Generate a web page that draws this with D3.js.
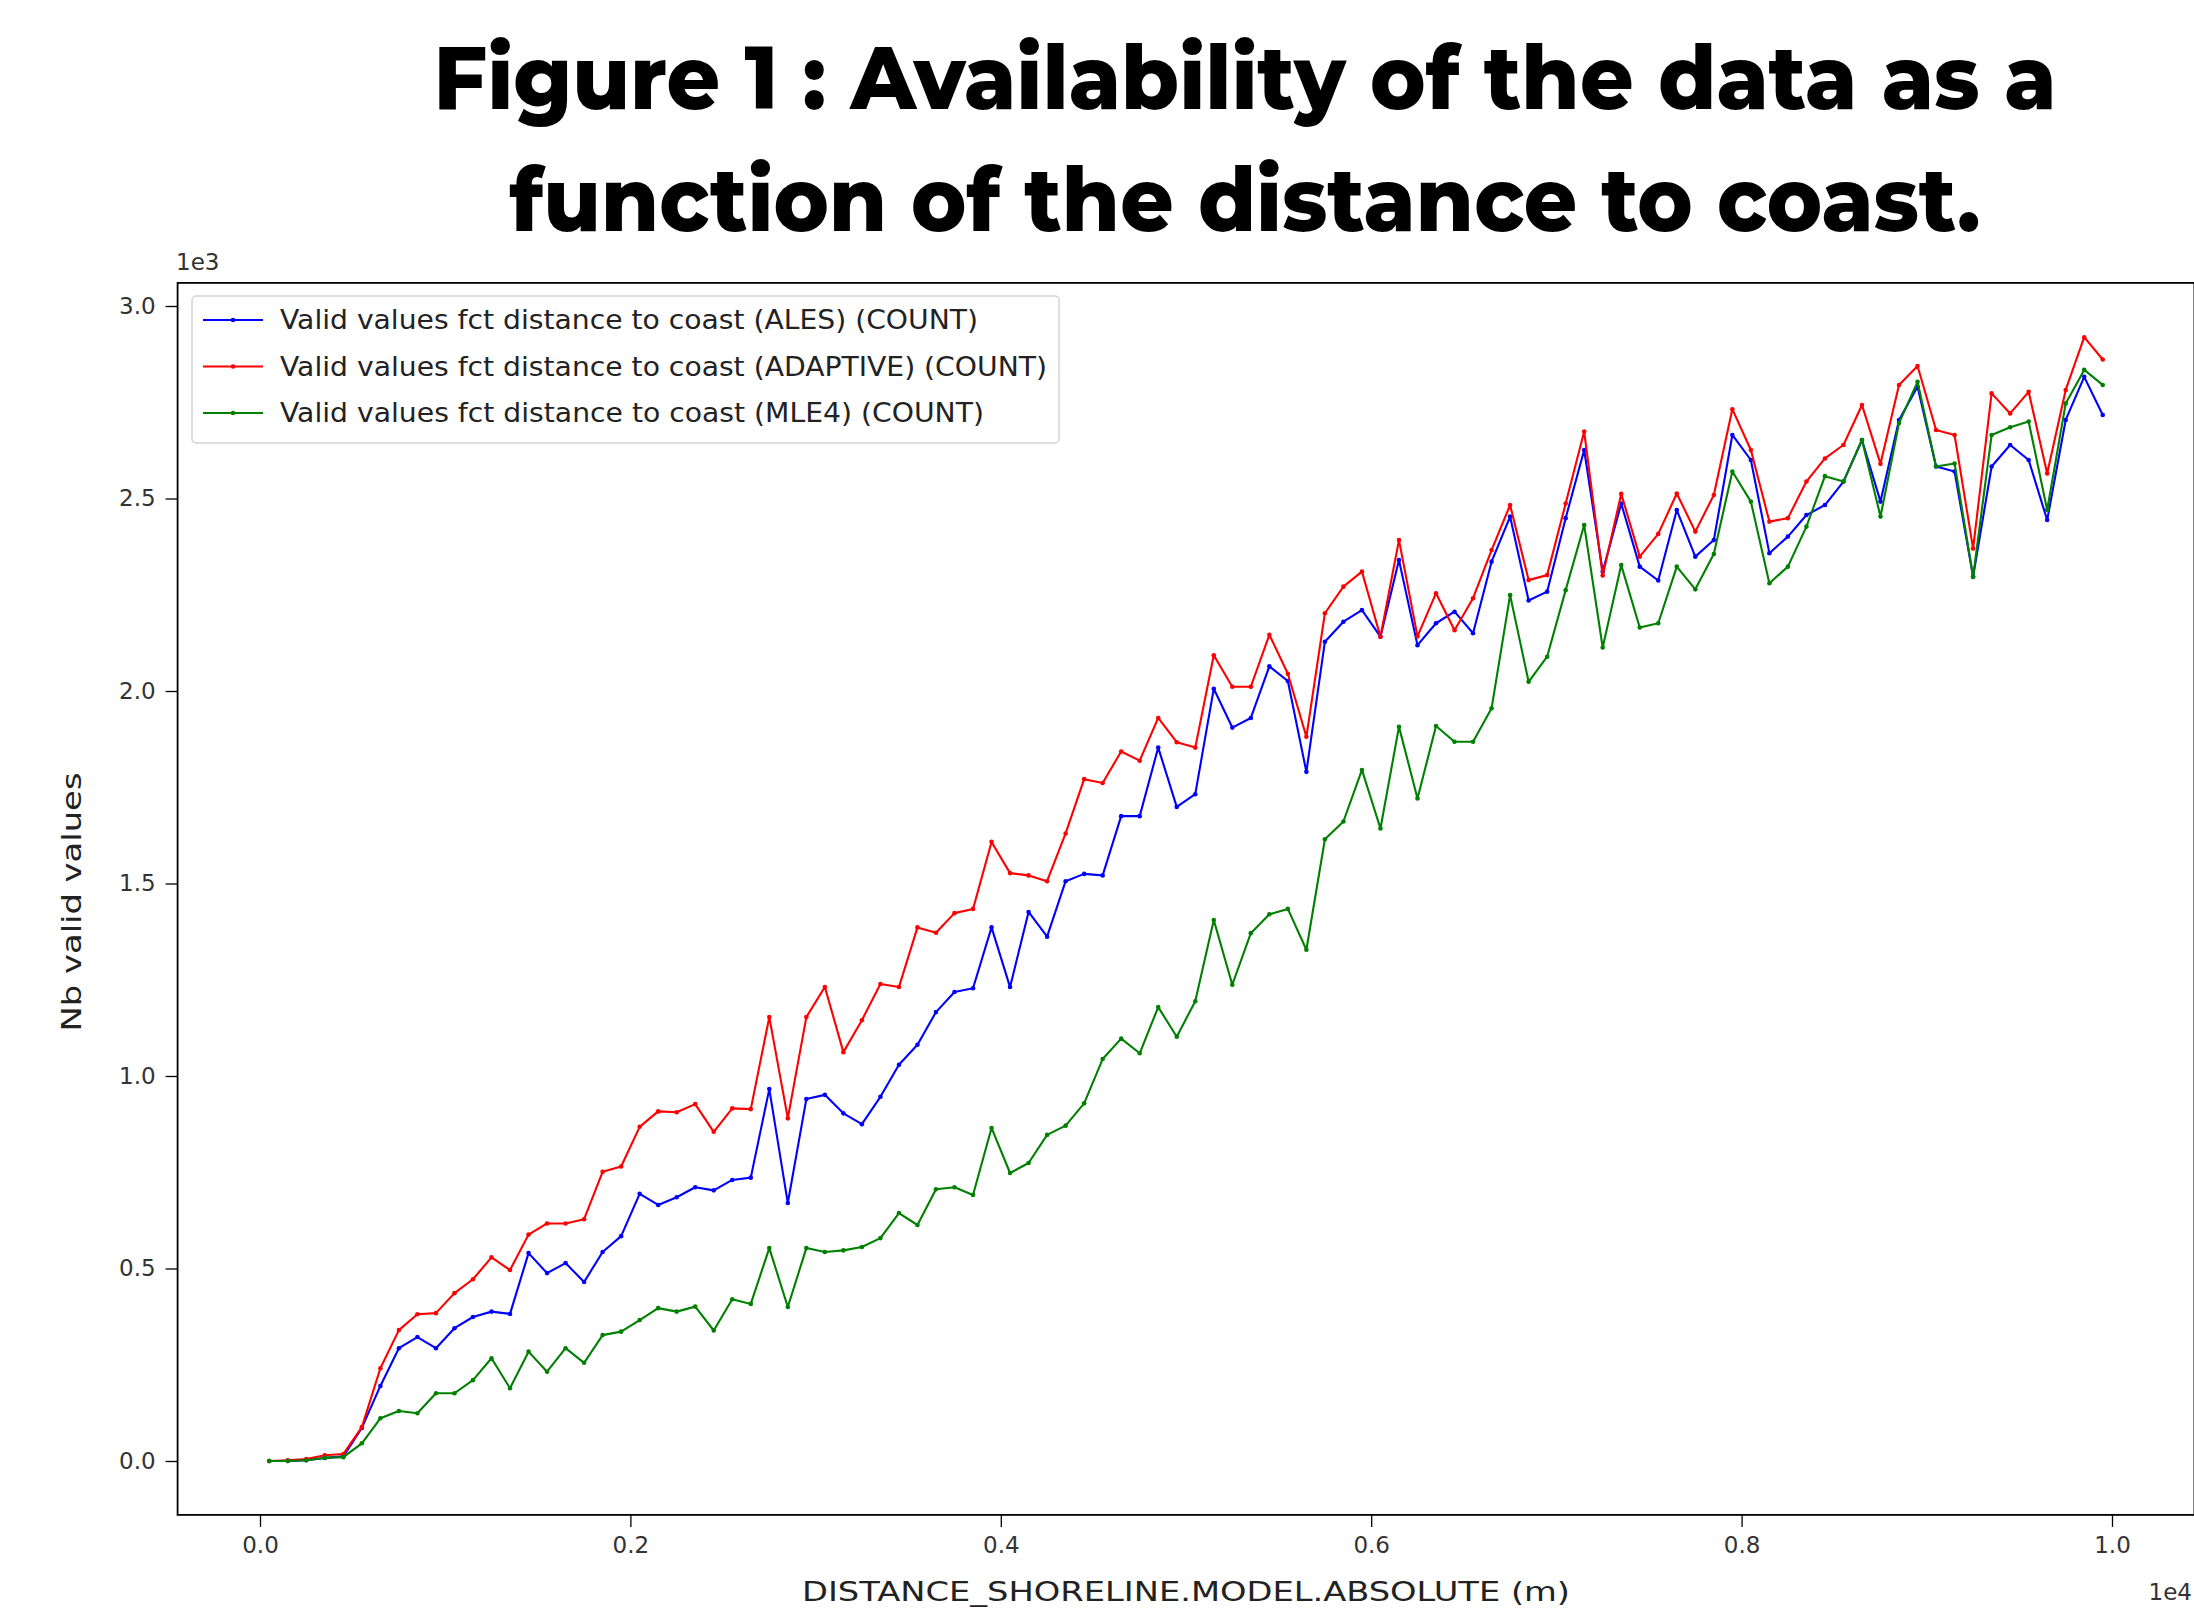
<!DOCTYPE html>
<html>
<head>
<meta charset="utf-8">
<script src="https://cdn.jsdelivr.net/npm/d3@7"></script>
<style>
  body { margin: 0; background: #fff; }
  svg { display: block; }
</style>
</head>
<body>
<svg id="chart" width="2194" height="1609"></svg>
<script>
// distance bins (m)
var distance = [50,150,250,350,450,550,650,750,850,950,1050,1150,1250,1350,1450,1550,1650,1750,1850,1950,
  2050,2150,2250,2350,2450,2550,2650,2750,2850,2950,3050,3150,3250,3350,3450,3550,3650,3750,3850,3950,
  4050,4150,4250,4350,4450,4550,4650,4750,4850,4950,5050,5150,5250,5350,5450,5550,5650,5750,5850,5950,
  6050,6150,6250,6350,6450,6550,6650,6750,6850,6950,7050,7150,7250,7350,7450,7550,7650,7750,7850,7950,
  8050,8150,8250,8350,8450,8550,8650,8750,8850,8950,9050,9150,9250,9350,9450,9550,9650,9750,9850,9950];

var ales = [0,0,2,8,12,86,195,293,322,293,345,374,388,382,540,488,514,465,543,584,
  694,665,685,711,703,730,736,966,670,940,951,903,875,946,1029,1081,1166,1218,1228,1386,
  1231,1426,1362,1506,1525,1521,1675,1675,1853,1699,1732,2006,1905,1930,2064,2026,1790,2128,2180,2210,
  2141,2340,2119,2176,2206,2150,2336,2453,2235,2258,2449,2626,2310,2487,2323,2287,2470,2349,2392,2665,
  2600,2358,2401,2457,2483,2544,2652,2492,2704,2790,2583,2570,2297,2583,2639,2600,2444,2704,2816,2717];

var adaptive = [0,2,5,15,18,88,241,340,381,384,436,472,529,496,588,617,617,628,751,765,
  868,908,906,927,855,916,914,1153,890,1153,1231,1062,1145,1239,1231,1386,1372,1423,1434,1608,
  1527,1521,1506,1630,1771,1761,1843,1819,1930,1867,1853,2093,2011,2011,2146,2045,1881,2202,2271,2310,
  2141,2392,2142,2254,2158,2241,2366,2483,2288,2301,2487,2674,2300,2512,2349,2408,2513,2414,2509,2732,
  2626,2440,2449,2544,2604,2639,2743,2590,2795,2844,2678,2665,2370,2773,2721,2777,2565,2782,2919,2861];

var mle4 = [0,0,2,8,10,46,111,130,124,176,176,210,267,189,284,232,293,255,327,336,
  366,397,388,401,339,420,408,553,400,553,543,547,556,579,644,613,706,711,691,865,
  748,774,847,871,929,1044,1097,1059,1179,1102,1194,1405,1237,1371,1420,1434,1328,1615,1661,1795,
  1643,1907,1721,1909,1868,1868,1955,2249,2024,2089,2262,2431,2113,2327,2165,2176,2323,2264,2356,2570,
  2492,2280,2323,2427,2558,2544,2652,2453,2696,2803,2583,2591,2297,2665,2685,2700,2470,2747,2834,2795];

var seriesNames = [
  "Valid values fct distance to coast (ALES) (COUNT)",
  "Valid values fct distance to coast (ADAPTIVE) (COUNT)",
  "Valid values fct distance to coast (MLE4) (COUNT)"
];
var seriesColors = ["#0000ff", "#ff0000", "#008000"];

var xTicks = [0, 2000, 4000, 6000, 8000, 10000];
var xTickLabels = ["0.0", "0.2", "0.4", "0.6", "0.8", "1.0"];
var yTicks = [0, 500, 1000, 1500, 2000, 2500, 3000];
var yTickLabels = ["0.0", "0.5", "1.0", "1.5", "2.0", "2.5", "3.0"];

var titleLines = ["Figure 1 : Availability of the data as a", "function of the distance to coast."];

var svg = d3.select("#chart");

var x = d3.scaleLinear().domain([0, 10000]).range([260, 2112]);
var y = d3.scaleLinear().domain([0, 3000]).range([1461, 306]);

var frameLeft = x(-445), frameRight = x(10445), frameTop = y(3060), frameBottom = y(-140);

// title
var titleInfo = [{ y: 109, w: 1623 }, { y: 231, w: 1471 }];
svg.selectAll(".title")
  .data(titleLines)
  .enter().append("text")
  .attr("class", "title")
  .attr("x", 1245)
  .attr("y", function (d, i) { return titleInfo[i].y; })
  .attr("text-anchor", "middle")
  .attr("textLength", function (d, i) { return titleInfo[i].w; })
  .attr("lengthAdjust", "spacingAndGlyphs")
  .style("font-family", "Montserrat, 'Open Sans', sans-serif")
  .style("font-weight", 800)
  .style("font-size", "88px")
  .style("fill", "#000")
  .text(function (d) { return d; });

// axes
var fontAxis = "'DejaVu Sans', sans-serif";

var xAxis = svg.append("g")
  .attr("transform", "translate(0," + frameBottom + ")")
  .call(d3.axisBottom(x).tickValues(xTicks).tickSize(12).tickPadding(10)
    .tickFormat(function (d, i) { return xTickLabels[i]; }));

var yAxis = svg.append("g")
  .attr("transform", "translate(" + frameLeft + ",0)")
  .call(d3.axisLeft(y).tickValues(yTicks).tickSize(12).tickPadding(10)
    .tickFormat(function (d, i) { return yTickLabels[i]; }));

[xAxis, yAxis].forEach(function (g) {
  g.select(".domain").remove();
  g.selectAll(".tick line").attr("stroke", "#000").attr("stroke-width", 1.3);
  g.selectAll(".tick text")
    .style("font-family", fontAxis)
    .style("font-size", "23px")
    .style("fill", "#333");
});

// frame
svg.append("rect")
  .attr("x", frameLeft).attr("y", frameTop)
  .attr("width", frameRight - frameLeft).attr("height", frameBottom - frameTop)
  .attr("fill", "none").attr("stroke", "#000").attr("stroke-width", 1.8);

// offsets
svg.append("text").attr("x", 176).attr("y", 270)
  .style("font-family", fontAxis).style("font-size", "23px").style("fill", "#333")
  .text("1e3");
svg.append("text").attr("x", 2192).attr("y", 1600).attr("text-anchor", "end")
  .style("font-family", fontAxis).style("font-size", "23px").style("fill", "#333")
  .text("1e4");

// axis labels
svg.append("text")
  .attr("transform", "translate(81,902) rotate(-90)")
  .attr("text-anchor", "middle")
  .attr("textLength", 259).attr("lengthAdjust", "spacingAndGlyphs")
  .style("font-family", fontAxis).style("font-size", "26px").style("fill", "#222")
  .text("Nb valid values");

svg.append("text")
  .attr("x", 1186).attr("y", 1601)
  .attr("text-anchor", "middle")
  .attr("textLength", 768).attr("lengthAdjust", "spacingAndGlyphs")
  .style("font-family", fontAxis).style("font-size", "26px").style("fill", "#222")
  .text("DISTANCE_SHORELINE.MODEL.ABSOLUTE (m)");

// series
var allSeries = [ales, adaptive, mle4];
var line = d3.line()
  .x(function (d, i) { return x(distance[i]); })
  .y(function (d) { return y(d); });

var plot = svg.append("g");
allSeries.forEach(function (vals, k) {
  plot.append("path")
    .datum(vals)
    .attr("d", line)
    .attr("fill", "none")
    .attr("stroke", seriesColors[k])
    .attr("stroke-width", 2.1)
    .attr("stroke-linejoin", "round");
  plot.selectAll(".dot" + k)
    .data(vals)
    .enter().append("circle")
    .attr("class", "dot" + k)
    .attr("cx", function (d, i) { return x(distance[i]); })
    .attr("cy", function (d) { return y(d); })
    .attr("r", 2.3)
    .attr("fill", seriesColors[k]);
});

// legend
var legend = svg.append("g");
legend.append("rect")
  .attr("x", 192).attr("y", 296).attr("width", 867).attr("height", 147)
  .attr("rx", 4)
  .attr("fill", "#fff").attr("fill-opacity", 0.8)
  .attr("stroke", "#d4d4d4").attr("stroke-width", 1.5);

var legWidths = [698, 767, 704];
var rows = legend.selectAll(".legrow")
  .data(seriesNames)
  .enter().append("g")
  .attr("class", "legrow")
  .attr("transform", function (d, i) { return "translate(0," + (320 + i * 46.5) + ")"; });

rows.append("line")
  .attr("x1", 203).attr("x2", 263)
  .attr("stroke", function (d, i) { return seriesColors[i]; })
  .attr("stroke-width", 2.1);
rows.append("circle")
  .attr("cx", 233).attr("r", 2.3)
  .attr("fill", function (d, i) { return seriesColors[i]; });
rows.append("text")
  .attr("x", 280).attr("dy", "0.35em")
  .attr("textLength", function (d, i) { return legWidths[i]; })
  .attr("lengthAdjust", "spacingAndGlyphs")
  .style("font-family", fontAxis).style("font-size", "26px").style("fill", "#222")
  .text(function (d) { return d; });
</script>
</body>
</html>
